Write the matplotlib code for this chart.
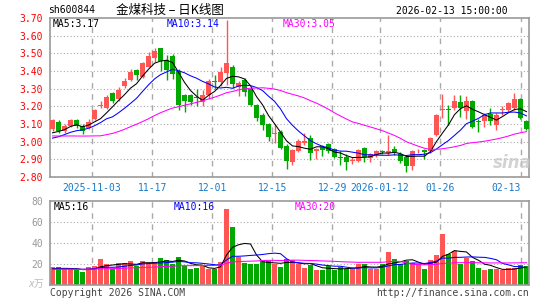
import numpy as np
import matplotlib
matplotlib.use('Agg')
import matplotlib.pyplot as plt

# daily candles, 2025-10-23 .. 2026-02-13 (80 trading days)
opens = [3.07, 3.11, 3.06, 3.09, 3.12, 3.09, 3.08, 3.13, 3.20, 3.19,
         3.275, 3.24, 3.315, 3.35, 3.405, 3.365, 3.425, 3.475, 3.53, 3.46,
         3.487, 3.40, 3.265, 3.265, 3.25, 3.225, 3.265, 3.345, 3.34, 3.39,
         3.425, 3.31, 3.35, 3.30, 3.205, 3.15, 3.10, 3.045, 3.055, 2.975,
         2.885, 2.945, 2.995, 3.02, 2.945, 2.97, 2.985, 2.96, 2.915, 2.915,
         2.89, 2.89, 2.965, 2.91, 2.925, 2.945, 2.935, 2.96, 2.93, 2.915,
         2.86, 2.945, 2.955, 2.945, 3.035, 3.18, 3.185, 3.19, 3.225, 3.175,
         3.23, 3.115, 3.115, 3.155, 3.095, 3.18, 3.18, 3.19, 3.24, 3.115]
highs = [3.13, 3.12, 3.10, 3.13, 3.13, 3.10, 3.13, 3.185, 3.23, 3.265,
         3.28, 3.31, 3.36, 3.41, 3.41, 3.45, 3.51, 3.53, 3.53, 3.49,
         3.495, 3.41, 3.27, 3.27, 3.30, 3.295, 3.355, 3.38, 3.425, 3.69,
         3.435, 3.345, 3.36, 3.31, 3.215, 3.16, 3.105, 3.10, 3.065, 2.985,
         2.96, 3.015, 3.05, 3.04, 2.965, 2.98, 2.995, 2.965, 2.945, 2.93,
         2.915, 2.96, 2.97, 2.935, 2.955, 2.955, 3.035, 2.975, 2.94, 2.925,
         2.955, 2.96, 2.96, 3.025, 3.155, 3.27, 3.21, 3.265, 3.265, 3.26,
         3.235, 3.13, 3.16, 3.19, 3.16, 3.20, 3.225, 3.275, 3.245, 3.12]
lows = [3.06, 3.05, 3.05, 3.085, 3.08, 3.045, 3.07, 3.125, 3.19, 3.185,
        3.22, 3.23, 3.305, 3.345, 3.35, 3.36, 3.42, 3.45, 3.40, 3.35,
        3.355, 3.18, 3.17, 3.205, 3.20, 3.20, 3.24, 3.30, 3.315, 3.32,
        3.305, 3.26, 3.26, 3.20, 3.115, 3.065, 3.005, 2.99, 2.96, 2.845,
        2.87, 2.94, 2.98, 2.895, 2.90, 2.92, 2.935, 2.905, 2.87, 2.84,
        2.875, 2.885, 2.885, 2.885, 2.915, 2.93, 2.925, 2.925, 2.88, 2.83,
        2.84, 2.935, 2.90, 2.935, 3.03, 3.135, 3.095, 3.18, 3.14, 3.13,
        3.075, 3.055, 3.085, 3.095, 3.065, 3.15, 3.17, 3.18, 3.13, 3.065]
closes = [3.12, 3.06, 3.09, 3.12, 3.09, 3.06, 3.11, 3.18, 3.21, 3.255,
          3.23, 3.29, 3.345, 3.395, 3.38, 3.445, 3.485, 3.515, 3.455, 3.405,
          3.383, 3.205, 3.23, 3.225, 3.245, 3.265, 3.345, 3.34, 3.395, 3.445,
          3.325, 3.33, 3.28, 3.205, 3.135, 3.095, 3.025, 3.05, 2.965, 2.89,
          2.95, 3.005, 3.005, 2.935, 2.96, 2.95, 2.945, 2.915, 2.91, 2.885,
          2.895, 2.95, 2.915, 2.93, 2.945, 2.94, 2.945, 2.94, 2.89, 2.865,
          2.945, 2.95, 2.94, 3.02, 3.15, 3.185, 3.18, 3.23, 3.19, 3.23,
          3.085, 3.11, 3.15, 3.115, 3.15, 3.185, 3.22, 3.24, 3.135, 3.07]
# volume in 万手
volumes = [17.1, 17.1, 14.8, 14.8, 13.9, 12.6, 17.4, 18.0, 24.5, 19.7,
           15.5, 20.6, 21.3, 22.9, 18.0, 22.9, 21.0, 21.6, 26.1, 23.5,
           19.7, 27.1, 18.0, 14.8, 16.5, 18.0, 14.8, 14.8, 22.3, 72.5,
           55.0, 26.8, 21.3, 19.7, 20.3, 22.9, 22.9, 19.7, 17.4, 24.5,
           23.5, 19.7, 15.8, 18.7, 13.9, 13.9, 17.7, 13.9, 17.1, 15.5,
           15.5, 19.7, 20.3, 14.8, 14.8, 19.7, 31.0, 25.2, 19.7, 22.9,
           21.3, 19.7, 15.5, 24.2, 28.1, 49.0, 30.0, 32.6, 20.3, 25.5,
           23.0, 16.5, 13.9, 14.8, 14.8, 14.5, 16.0, 16.2, 19.5, 17.8]

# days before the window, only used to start the moving averages
prior_closes = [3.07, 3.09, 3.11, 3.10, 3.07, 3.10, 3.16, 3.20,
                3.05, 3.02, 2.98, 2.96, 2.95, 2.97, 2.99, 3.00, 2.98, 2.97, 2.99, 3.01,
                2.98, 2.97, 2.99, 3.00, 3.01, 3.02, 3.04, 3.03, 3.04]
prior_volumes = [14.6, 15.3, 13.9, 14.8, 15.7, 14.2, 15.0, 14.4, 16.0, 14.9,
                 13.8, 15.2, 14.7, 15.5, 14.1, 14.8, 15.9, 14.3, 15.1, 14.6,
                 13.9, 15.4, 14.8, 15.6, 14.2, 15.0, 14.5, 15.3, 14.9]

date_idx = [7, 17, 27, 37, 47, 55, 65, 79]
date_labels = ['2025-11-03', '11-17', '12-01', '12-15', '12-29',
               '2026-01-12', '01-26', '02-13']
price_ticks = [2.80, 2.90, 3.00, 3.10, 3.20, 3.30, 3.40, 3.50, 3.60, 3.70]
vol_ticks = [20, 40, 60, 80]

price_ma_labels = ['MA5:3.17', 'MA10:3.14', 'MA30:3.05']
vol_ma_labels = ['MA5:16', 'MA10:16', 'MA30:20']

RED = '#FF5555'
GREEN = '#00A800'
GRID = '#AAAAAA'
MONO = 'DejaVu Sans Mono'
CJK = ['Noto Sans CJK SC', 'DejaVu Sans']
W, H = 545, 300


def moving_avg(prior, values, n):
    full = np.array(prior + values, dtype=float)
    out = np.convolve(full, np.ones(n) / n, mode='valid')
    return out[-len(values):]


def ftext(fig, px, py, s, **kw):
    # place text by pixel position on the 545x300 canvas
    kw.setdefault('fontfamily', MONO)
    kw.setdefault('va', 'center')
    fig.text(px / W, 1 - py / H, s, **kw)


def style_axis(ax, grid_x):
    for sp in ax.spines.values():
        sp.set_color('#999999')
        sp.set_linewidth(1.2)
    for gx in grid_x:
        ax.axvline(gx, color=GRID, lw=1, ls=(0, (4, 4)), zorder=0)
    ax.tick_params(length=0)


def main():
    n = len(closes)
    x = np.arange(n)
    o = np.array(opens)
    c = np.array(closes)
    colors = [RED if c[i] >= o[i] else GREEN for i in range(n)]
    grid_x = [i - 0.4 for i in date_idx]
    grid_x[-1] = date_idx[-1] - 0.95

    fig = plt.figure(figsize=(W / 100, H / 100), dpi=100)
    ax = fig.add_axes([50 / W, 1 - 177 / H, 479 / W, 159 / H])
    axv = fig.add_axes([50 / W, 1 - 285 / H, 479 / W, 84 / H])

    # price panel
    style_axis(ax, grid_x)
    for p in price_ticks[1:-1]:
        ax.axhline(p, color=GRID, lw=0.8, ls=(0, (1, 2)), zorder=0)
    ax.vlines(x, lows, highs, colors=colors, linewidth=1, zorder=2)
    body_h = np.maximum(np.abs(c - o), 0.004)
    ax.bar(x, body_h, bottom=np.minimum(o, c), width=0.8, color=colors,
           linewidth=0, zorder=3)
    ax.plot(x, moving_avg(prior_closes, closes, 5), color='black', lw=0.75, zorder=4)
    ax.plot(x, moving_avg(prior_closes, closes, 10), color='#0000FF', lw=0.75, zorder=4)
    ax.plot(x, moving_avg(prior_closes, closes, 30), color='#FF00FF', lw=0.75, zorder=4)
    ax.set_xlim(-0.42, n - 0.58)
    ax.set_ylim(price_ticks[0], price_ticks[-1])
    ax.set_yticks(price_ticks)
    ax.set_yticklabels(['%.2f' % p for p in price_ticks], color='red',
                       fontfamily=MONO, fontsize=7)
    ax.set_xticks(grid_x)
    ax.set_xticklabels(date_labels, color='#1878C8', fontfamily=MONO, fontsize=7)
    ax.get_xticklabels()[-1].set_ha('right')
    ax.tick_params(axis='x', pad=4)
    ax.tick_params(axis='y', pad=5)

    # volume panel
    style_axis(axv, grid_x)
    for v in vol_ticks[:-1]:
        axv.axhline(v, color=GRID, lw=0.8, ls=(0, (1, 2)), zorder=0)
    axv.bar(x, volumes, width=0.83, color=colors, linewidth=0, zorder=2)
    axv.plot(x, moving_avg(prior_volumes, volumes, 5), color='black', lw=0.75, zorder=3)
    axv.plot(x, moving_avg(prior_volumes, volumes, 10), color='#0000FF', lw=0.75, zorder=3)
    axv.plot(x, moving_avg(prior_volumes, volumes, 30), color='#FF00FF', lw=0.75, zorder=3)
    axv.set_xlim(-0.42, n - 0.58)
    axv.set_ylim(0, 80)
    axv.set_xticks([])
    axv.set_yticks(vol_ticks)
    axv.set_yticklabels([str(v) for v in vol_ticks], color='#999999',
                        fontfamily=MONO, fontsize=7)
    axv.tick_params(axis='y', pad=5)

    # header + labels
    ftext(fig, 48, 10, 'sh600844', fontsize=7)
    ftext(fig, 116, 10, '金煤科技 – 日K线图', fontsize=9, fontfamily=CJK)
    ftext(fig, 508, 11, '2026-02-13 15:00:00', fontsize=7, ha='right')
    ma_cols = ['black', '#0000FF', '#FF00FF']
    for px, s, col in zip([53, 167, 283], price_ma_labels, ma_cols):
        ftext(fig, px, 24, s, fontsize=7, color=col)
    for px, s, col in zip([54, 174, 295], vol_ma_labels, ma_cols):
        ftext(fig, px, 207, s, fontsize=7, color=col)
    ftext(fig, 44, 284, 'x万', fontsize=7, color='#BBBBBB', ha='right',
          fontfamily=[MONO, 'Noto Sans CJK SC'], style='italic')
    ftext(fig, 50, 293, 'Copyright 2026 SINA.COM', fontsize=7, color='#444444')
    ftext(fig, 529, 293, 'http://finance.sina.com.cn', fontsize=7,
          color='#444444', ha='right')
    ftext(fig, 512, 163, 'sina', fontsize=12, color='#C8C8C8', ha='center',
          fontfamily='DejaVu Sans', weight='bold', style='italic', alpha=0.8)

    fig.savefig('out.png', dpi=100, facecolor='white')


if __name__ == "__main__":
    main()
